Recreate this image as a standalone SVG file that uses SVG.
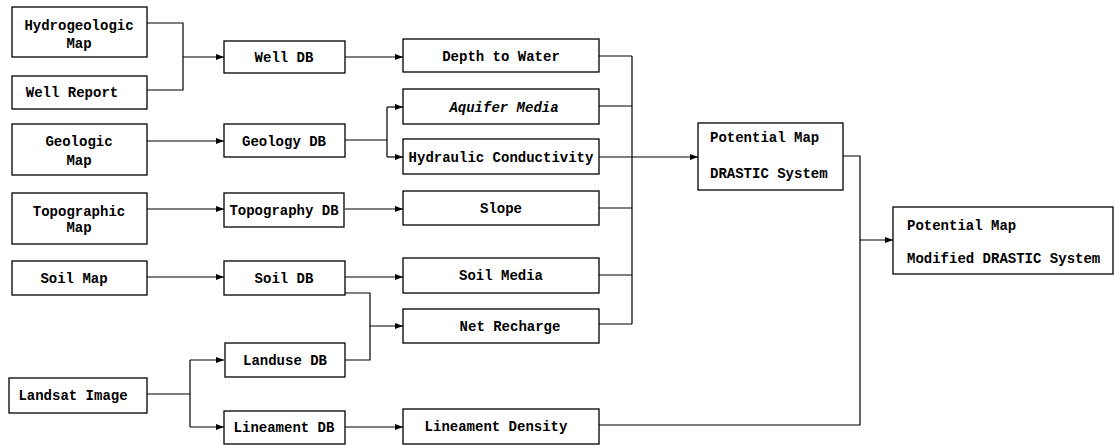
<svg xmlns="http://www.w3.org/2000/svg" width="1115" height="445" viewBox="0 0 1115 445">
<defs>
<marker id="arr" markerWidth="8" markerHeight="6" refX="8" refY="3" orient="auto" markerUnits="userSpaceOnUse">
<path d="M0,0 L8,3 L0,6 z" fill="#000"/>
</marker>
<style>
.box{fill:#fff;stroke:#000;stroke-width:1.3}
.t{font-family:"Liberation Mono","DejaVu Sans Mono",monospace;font-size:14px;font-weight:bold;fill:#000;text-anchor:middle}
.tl{font-family:"Liberation Mono","DejaVu Sans Mono",monospace;font-size:14px;font-weight:bold;fill:#000;text-anchor:start}
.c{fill:none;stroke:#000;stroke-width:1.2}
.a{fill:none;stroke:#000;stroke-width:1.2;marker-end:url(#arr)}
</style>
</defs>
<rect width="1115" height="445" fill="#fff"/>
<g id="connectors">
<path class="c" d="M147,23 H183 V90 H147"/>
<path class="a" d="M183,57 H224"/>
<path class="a" d="M345,57 H403"/>
<path class="a" d="M147,141 H224"/>
<path class="c" d="M345,140 H387 M387,107 V157"/>
<path class="a" d="M387,107 H403"/>
<path class="a" d="M387,157 H403"/>
<path class="a" d="M147,209 H224"/>
<path class="a" d="M345,209 H403"/>
<path class="a" d="M147,277 H224"/>
<path class="a" d="M345,277 H403"/>
<path class="c" d="M345,293 H370 V360 H345"/>
<path class="a" d="M370,326 H403"/>
<path class="c" d="M147,394 H190 M190,360 V427"/>
<path class="a" d="M190,360 H224"/>
<path class="a" d="M190,427 H224"/>
<path class="a" d="M345,427 H403"/>
<path class="c" d="M599,56 H632 M599,106 H632 M599,208 H632 M599,275 H632 M599,324 H632 M632,56 V324"/>
<path class="a" d="M599,157 H698"/>
<path class="c" d="M843,156 H860 V425 H599"/>
<path class="a" d="M860,240 H893"/>
</g>
<g id="hydrogeologic-map"><rect class="box" x="12" y="7" width="135" height="50"/><text class="t" x="79" y="30">Hydrogeologic</text><text class="t" x="79" y="48">Map</text></g>
<g id="well-report"><rect class="box" x="12" y="76" width="135" height="33"/><text class="t" x="72" y="97">Well Report</text></g>
<g id="geologic-map"><rect class="box" x="12" y="124" width="135" height="51"/><text class="t" x="79" y="146">Geologic</text><text class="t" x="79" y="165">Map</text></g>
<g id="topographic-map"><rect class="box" x="12" y="193" width="135" height="51"/><text class="t" x="79" y="216">Topographic</text><text class="t" x="79" y="232">Map</text></g>
<g id="soil-map"><rect class="box" x="12" y="261" width="135" height="34"/><text class="t" x="74" y="283">Soil Map</text></g>
<g id="landsat-image"><rect class="box" x="9" y="378" width="138" height="35"/><text class="t" x="73" y="400">Landsat Image</text></g>
<g id="well-db"><rect class="box" x="224" y="41" width="121" height="32"/><text class="t" x="284" y="62">Well DB</text></g>
<g id="geology-db"><rect class="box" x="224" y="124" width="121" height="33"/><text class="t" x="284" y="146">Geology DB</text></g>
<g id="topography-db"><rect class="box" x="224" y="193" width="120" height="34"/><text class="t" x="284" y="215">Topography DB</text></g>
<g id="soil-db"><rect class="box" x="224" y="261" width="121" height="34"/><text class="t" x="284" y="283">Soil DB</text></g>
<g id="landuse-db"><rect class="box" x="225" y="343" width="120" height="34"/><text class="t" x="285" y="365">Landuse DB</text></g>
<g id="lineament-db"><rect class="box" x="224" y="411" width="121" height="33"/><text class="t" x="284" y="432">Lineament DB</text></g>
<g id="depth-to-water"><rect class="box" x="403" y="39" width="196" height="33"/><text class="t" x="501" y="61">Depth to Water</text></g>
<g id="aquifer-media"><rect class="box" x="403" y="89" width="196" height="35"/><text class="t" x="504" y="112" font-style="italic">Aquifer Media</text></g>
<g id="hydraulic-conductivity"><rect class="box" x="403" y="139" width="196" height="35"/><text class="t" x="501" y="162">Hydraulic Conductivity</text></g>
<g id="slope"><rect class="box" x="403" y="191" width="196" height="34"/><text class="t" x="501" y="213">Slope</text></g>
<g id="soil-media"><rect class="box" x="403" y="258" width="196" height="35"/><text class="t" x="501" y="280">Soil Media</text></g>
<g id="net-recharge"><rect class="box" x="403" y="309" width="196" height="34"/><text class="t" x="510" y="331">Net Recharge</text></g>
<g id="lineament-density"><rect class="box" x="403" y="409" width="196" height="35"/><text class="t" x="496" y="431">Lineament Density</text></g>
<g id="potential-map-drastic"><rect class="box" x="698" y="123" width="145" height="67"/><text class="tl" x="710" y="142">Potential Map</text><text class="tl" x="710" y="178">DRASTIC System</text></g>
<g id="potential-map-modified"><rect class="box" x="893" y="207" width="220" height="67"/><text class="tl" x="907" y="230">Potential Map</text><text class="tl" x="907" y="263">Modified DRASTIC System</text></g>
</svg>
